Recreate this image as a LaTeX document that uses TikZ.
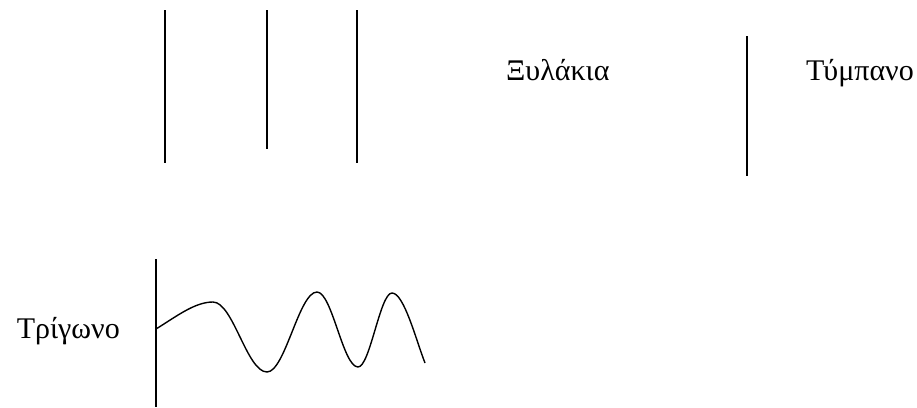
\documentclass[tikz,border=0pt]{standalone}
\usepackage{fontspec}
\setmainfont{Liberation Serif}
\usetikzlibrary{positioning}

\begin{document}
\begin{tikzpicture}[x=1pt, y=-1pt,
  instr/.style={font=\fontsize{30}{32}\selectfont, inner sep=0pt},
  stick/.style={line width=1.4pt, draw=black},
  wave/.style={line width=1.4pt, draw=black}
]
\useasboundingbox (0,0) rectangle (917,407);

% sticks
\draw[stick] (165,10) -- (165,163);
\draw[stick] (267,10) -- (267,149);
\draw[stick] (357,10) -- (357,163);
\node[instr, anchor=base west] (xyl) at (506,80) {Ξυλάκια};

% drum
\draw[stick] (747,36) -- (747,176);
\node[instr, anchor=base west] (tym) at (806,80) {Τύμπανο};

% triangle
\node[instr, anchor=base east] (tri) at (120,338) {Τρίγωνο};
\draw[stick] (156,259) -- (156,407);
\draw[wave] (156,329) .. controls (177,316) and (195,302) .. (213,302)
  .. controls (233,302) and (247,372) .. (267,372)
  .. controls (285,372) and (299,292) .. (317,292)
  .. controls (332,292) and (343,367) .. (358,367)
  .. controls (370,367) and (380,293) .. (392,293)
  .. controls (404,293) and (416,340) .. (425,363);
\end{tikzpicture}
\end{document}
